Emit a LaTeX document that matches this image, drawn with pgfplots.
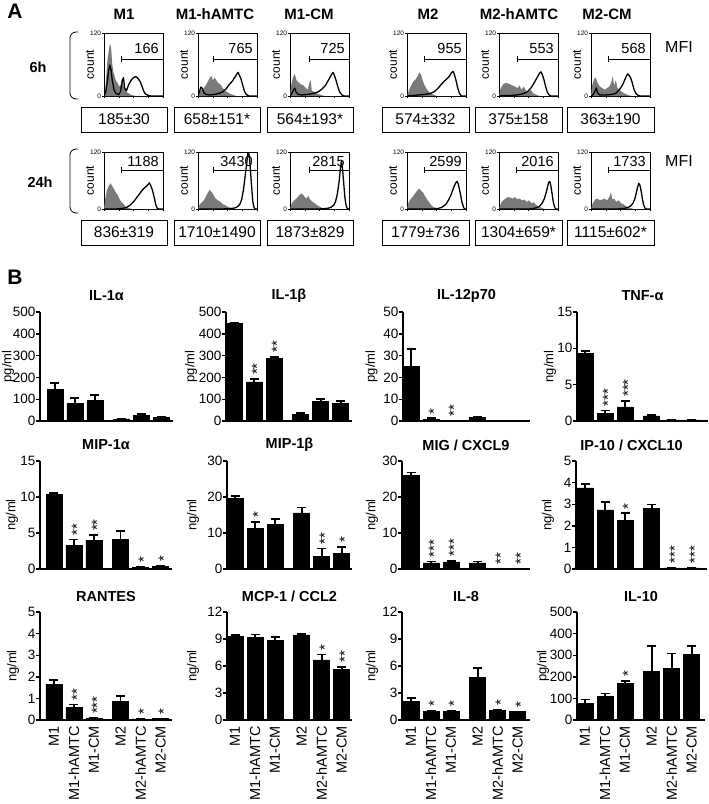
\documentclass[border=0pt]{standalone}
\usepackage{fontspec}
\setmainfont{Liberation Sans}
\usepackage{pgfplots}
\pgfplotsset{compat=1.18}
\newcommand\fs[1]{\fontsize{#1}{#1}\selectfont}
\pgfplotsset{
  /pgf/number format/assume math mode=true,
  hist/.style={scale only axis, width=59pt, xmin=0, xmax=100, ymin=0, ymax=120,
    ytick={0,120}, yticklabel style={font=\fs{6.5}, inner sep=0.8pt},
    xtick={0,25,50,75,100}, xticklabels={}, minor x tick num=4,
    tick pos=left, tick align=outside, major tick length=2pt, minor tick length=1.2pt,
    tick style={line width=0.5pt, black},
    axis line style={line width=0.7pt},
    clip mode=individual,
    anchor=south west},
  gray hist/.style={fill=black!52, draw=none},
  black hist/.style={black, line width=1.3pt, line join=round},
  bchart/.style={scale only axis, anchor=south west,
    axis x line*=bottom, axis y line*=left,
    axis line style={line width=1.6pt},
    xtick=\empty, ymin=0,
    tick align=outside, major tick length=4pt,
    ytick style={line width=1.4pt, black},
    yticklabel style={font=\fs{13.5}, inner sep=0.5pt},
    every axis title/.style={at={(rel axis cs:0.5,1)}, anchor=center, yshift=16pt, font=\bfseries\fs{14.5}},
    ybar, bar width=16pt, clip=false},
  bbar/.style={fill=black, draw=black, line width=0.5pt,
    error bars/.cd, y dir=plus, y explicit,
    error bar style={line width=1.8pt, black},
    error mark options={rotate=90, line width=1.8pt, mark size=4.5pt, black}},
  xcat/.style={xtick={0,1,2,3.33,4.33,5.33}, xticklabels={M1,M1-hAMTC,M1-CM,M2,M2-hAMTC,M2-CM},
    x tick label style={rotate=90, anchor=east, font=\fs{14.5}, inner sep=2pt}, major x tick style={draw=none}},
}
\tikzset{st/.style={rotate=90, anchor=west, font=\fs{15}, inner sep=0pt}}
\newcommand\ylab[2]{\node[rotate=90, font=\fs{13}, inner sep=0pt] at ([xshift=-#1pt]rel axis cs:0,0.5) {#2};}
% #1 left, #2 bottom, #3 height, #4 gate x, #5 gate y, #6 number y, #7 number, #8 gray, #9 black
\newcommand\hist[9]{%
\begin{axis}[hist, at={(#1pt,-#2pt)}, height=#3pt]
\addplot[gray hist] coordinates {#8} \closedcycle;
\addplot[black hist] coordinates {#9};
\draw[line width=0.6pt] (axis cs:#4,#5) -- (axis cs:100,#5);
\draw[line width=0.6pt] ([yshift=-3pt]axis cs:#4,#5) -- ([yshift=3pt]axis cs:#4,#5);
\node[anchor=east, font=\fs{14.5}, inner sep=0pt] at (axis cs:93,#6) {#7};
\node[rotate=90, font=\fs{12}, inner sep=0pt] at ([xshift=-14pt]rel axis cs:0,0.5) {count};
\end{axis}}
\newcommand\mfibox[5]{%
\draw[line width=0.8pt] (#1pt,-#2pt) rectangle (#3pt,-#4pt);
\node[font=\fs{15.5}, inner sep=0pt] at ({(#1+#3)/2*1pt},{-(#2+#4)/2*1pt}) {#5};}
\newcommand\brk[2]{\draw[line width=0.8pt, rounded corners=6pt] (78pt,-#1pt) -- (70pt,-#1pt) -- (70pt,-#2pt) -- (78pt,-#2pt);}
\begin{document}
\begin{tikzpicture}
\path[use as bounding box] (0,0) rectangle (709pt,-804pt);
% ---------------- Panel A ----------------
\node[font=\bfseries\fs{21}] at (15pt,-11pt) {A};
\node[font=\bfseries\fs{21}] at (15pt,-277pt) {B};
\foreach \x/\t in {124/M1,215/M1-hAMTC,309/M1-CM,428/M2,519/M2-hAMTC,607/M2-CM}
  \node[font=\bfseries\fs{15}] at (\x pt,-14pt) {\t};
\node[font=\bfseries\fs{14.5}] at (38pt,-67pt) {6h};
\node[font=\bfseries\fs{14.5}] at (40pt,-182pt) {24h};
\node[font=\fs{16}] at (679pt,-47pt) {MFI};
\node[font=\fs{16}] at (679pt,-161pt) {MFI};
\brk{32}{99}
\brk{149}{213}
% row 1 (6h)
\hist{104}{96}{63}{29}{70}{90}{166}
{(0,0)(2,10)(4,40)(6,70)(8,85)(10,100)(12,92)(14,60)(16,45)(18,38)(20,30)(23,25)(26,18)(29,22)(31,35)(33,20)(36,12)(40,6)(45,3)(50,1)(55,0)(100,0)}
{(0,0)(3,8)(6,30)(8,50)(10,59)(12,50)(14,30)(17,12)(20,5)(25,3)(28,8)(31,30)(33,35)(35,15)(38,10)(42,22)(46,30)(50,35)(54,37)(58,33)(61,28)(64,20)(67,10)(70,4)(75,1)(80,0)(100,0)}
\hist{198}{96}{63}{26}{70}{90}{765}
{(0,0)(3,8)(6,12)(10,15)(14,22)(17,28)(20,35)(23,38)(25,30)(28,35)(31,30)(34,25)(38,22)(42,15)(46,10)(50,7)(55,4)(60,2)(65,0)(100,0)}
{(0,0)(3,10)(5,17)(7,15)(10,6)(14,3)(20,2)(28,3)(36,5)(42,8)(48,14)(53,22)(58,28)(62,35)(66,42)(68,45)(70,40)(73,32)(76,20)(79,8)(82,3)(86,0)(100,0)}
\hist{290}{96}{63}{33}{70}{90}{725}
{(0,0)(2,20)(5,35)(8,42)(11,30)(15,25)(19,22)(23,20)(27,15)(30,12)(33,25)(35,30)(37,10)(41,8)(45,5)(50,3)(55,1)(60,0)(100,0)}
{(0,0)(3,5)(6,12)(8,15)(10,8)(14,3)(20,2)(30,3)(40,5)(48,8)(55,14)(60,20)(64,28)(68,36)(71,42)(73,45)(75,40)(78,30)(81,18)(84,8)(88,2)(92,0)(100,0)}
\hist{407}{96}{63}{29}{70}{90}{955}
{(0,0)(3,10)(7,20)(11,28)(15,32)(18,38)(21,45)(24,40)(27,28)(30,20)(34,12)(38,7)(42,4)(46,2)(50,0)(100,0)}
{(0,0)(10,1)(20,2)(30,3)(40,5)(46,8)(52,14)(58,22)(63,28)(68,33)(72,38)(75,44)(78,47)(80,42)(83,30)(86,15)(89,5)(92,0)(100,0)}
\hist{499}{96}{63}{31}{70}{90}{553}
{(0,0)(3,15)(7,22)(11,25)(15,24)(19,22)(23,20)(27,18)(31,15)(35,20)(38,12)(42,18)(46,10)(50,8)(54,12)(58,5)(62,3)(66,1)(70,0)(100,0)}
{(0,0)(10,1)(20,1)(30,2)(40,4)(48,8)(54,15)(58,22)(62,30)(66,38)(69,44)(71,46)(73,42)(76,32)(79,18)(82,7)(85,2)(88,0)(100,0)}
\hist{591}{96}{63}{30}{70}{90}{568}
{(0,0)(2,20)(5,32)(8,35)(11,25)(15,18)(19,15)(23,12)(27,15)(31,18)(34,25)(37,38)(39,20)(42,30)(45,15)(50,10)(55,6)(60,3)(65,1)(70,0)(100,0)}
{(0,0)(4,3)(7,10)(9,15)(11,6)(15,2)(25,2)(35,3)(42,5)(48,12)(53,20)(57,30)(60,38)(62,42)(64,40)(67,35)(70,25)(73,12)(76,5)(80,1)(84,0)(100,0)}
% row 2 (24h)
\hist{104}{209}{57}{29}{82}{101}{1188}
{(0,0)(2,20)(5,40)(8,48)(11,54)(14,48)(17,42)(20,35)(23,30)(26,22)(29,15)(32,12)(35,8)(38,4)(42,2)(46,0)(100,0)}
{(0,0)(20,0)(30,1)(38,3)(44,8)(50,15)(56,25)(61,33)(65,40)(69,45)(72,48)(75,52)(77,55)(79,50)(82,40)(85,25)(88,8)(90,2)(93,0)(100,0)}
\hist{198}{209}{57}{26}{82}{101}{3430}
{(0,0)(3,10)(7,15)(11,20)(14,28)(17,35)(20,40)(23,36)(26,30)(30,22)(34,18)(38,15)(42,10)(46,8)(50,5)(55,2)(60,0)(100,0)}
{(0,0)(40,0)(55,1)(62,2)(67,5)(71,10)(74,20)(77,40)(80,70)(83,100)(85,125)(87,110)(89,80)(91,45)(93,15)(95,3)(97,0)(100,0)}
\hist{290}{209}{57}{32}{82}{101}{2815}
{(0,0)(3,12)(7,18)(11,22)(15,28)(19,33)(22,30)(25,25)(28,22)(31,28)(34,20)(38,15)(42,12)(46,8)(50,5)(55,2)(60,0)(100,0)}
{(0,0)(50,0)(60,1)(66,2)(70,4)(74,8)(77,15)(80,30)(83,55)(85,80)(87,100)(89,85)(91,55)(93,25)(95,8)(97,1)(99,0)(100,0)}
\hist{407}{209}{57}{30}{82}{101}{2599}
{(0,0)(3,15)(7,22)(11,28)(15,35)(18,40)(21,43)(24,38)(27,35)(30,28)(33,22)(37,15)(41,8)(45,4)(50,2)(55,0)(100,0)}
{(0,0)(45,0)(52,1)(58,3)(62,6)(66,10)(70,18)(74,28)(77,38)(80,48)(83,56)(85,58)(87,52)(90,35)(93,15)(96,3)(98,0)(100,0)}
\hist{499}{209}{57}{30}{82}{101}{2016}
{(0,0)(3,12)(7,18)(11,22)(15,25)(19,24)(23,22)(27,25)(31,20)(35,22)(39,18)(43,20)(47,15)(51,18)(55,12)(59,14)(63,8)(67,6)(71,3)(75,1)(78,0)(100,0)}
{(0,0)(50,0)(58,1)(64,3)(69,6)(73,12)(77,22)(80,35)(82,45)(84,56)(86,58)(88,48)(90,32)(92,15)(94,5)(96,0)(100,0)}
\hist{591}{209}{57}{30}{82}{101}{1733}
{(0,0)(3,12)(7,20)(11,22)(15,18)(19,20)(23,22)(27,18)(31,25)(34,35)(36,20)(39,22)(43,15)(47,18)(51,12)(55,10)(59,6)(63,4)(67,2)(72,0)(100,0)}
{(0,0)(45,0)(55,1)(62,3)(67,6)(71,12)(74,20)(77,35)(79,46)(81,54)(83,50)(85,38)(87,22)(89,10)(91,3)(93,0)(100,0)}
% MFI boxes
\mfibox{81}{107}{167}{132}{185±30}
\mfibox{174}{107}{260}{132}{658±151*}
\mfibox{267}{107}{353}{132}{564±193*}
\mfibox{382}{107}{469}{132}{574±332}
\mfibox{475}{107}{562}{132}{375±158}
\mfibox{567}{107}{654}{132}{363±190}
\mfibox{81}{220}{167}{245}{836±319}
\mfibox{174}{220}{260}{245}{1710±1490}
\mfibox{267}{220}{353}{245}{1873±829}
\mfibox{382}{220}{469}{245}{1779±736}
\mfibox{475}{220}{562}{245}{1304±659*}
\mfibox{567}{220}{654}{245}{1115±602*}
% ---------------- Panel B ----------------
% Row 1
\begin{axis}[bchart, at={(40pt,-421pt)}, width=133pt, height=109pt, xmin=-0.75, xmax=5.9,
  ymax=500, ytick={0,100,...,500}, title={IL-1α}]
\addplot[bbar] coordinates {(0,145) +- (0,30) (1,80) +- (0,26) (2,95) +- (0,23) (3.33,10) +- (0,1) (4.33,26) +- (0,7) (5.33,18) +- (0,2)};
\ylab{32}{pg/ml}
\end{axis}
\begin{axis}[bchart, at={(226pt,-421pt)}, width=126pt, height=109pt, xmin=-0.4, xmax=5.9,
  ymax=500, ytick={0,100,...,500}, title={IL-1β}]
\addplot[bbar] coordinates {(0,447) +- (0,4) (1,180) +- (0,12) (2,287) +- (0,7) (3.33,30) +- (0,6) (4.33,90) +- (0,10) (5.33,80) +- (0,10)};
\ylab{35}{pg/ml}
\node[st] at ([xshift=3pt,yshift=4pt]axis cs:1,192) {**};
\node[st] at ([xshift=3pt,yshift=4pt]axis cs:2,294) {**};
\end{axis}
\begin{axis}[bchart, at={(403pt,-421pt)}, width=127pt, height=109pt, xmin=-0.4, xmax=5.95,
  ymax=50, ytick={0,10,...,50}, title={IL-12p70}]
\addplot[bbar] coordinates {(0,25) +- (0,8) (1,0.8) +- (0,0.4) (2,0.1) +- (0,0.05) (3.33,1.5) +- (0,0.6) (4.33,0.05) +- (0,0) (5.33,0.05) +- (0,0)};
\ylab{31.5}{pg/ml}
\node[st] at ([xshift=3pt,yshift=4pt]axis cs:1,1.2) {*};
\node[st] at ([xshift=3pt,yshift=4pt]axis cs:2,0.15) {**};
\end{axis}
\begin{axis}[bchart, at={(577pt,-421pt)}, width=131pt, height=109pt, xmin=-0.4, xmax=6.15,
  ymax=15, ytick={0,5,10,15}, title={TNF-α}]
\addplot[bbar] coordinates {(0,9.3) +- (0,0.3) (1,1.0) +- (0,0.45) (2,1.95) +- (0,0.8) (3.33,0.7) +- (0,0.15) (4.33,0.15) +- (0,0.03) (5.33,0.15) +- (0,0.03)};
\ylab{27}{ng/ml}
\node[st] at ([xshift=3pt,yshift=4pt]axis cs:1,1.45) {***};
\node[st] at ([xshift=3pt,yshift=4pt]axis cs:2,2.75) {***};
\end{axis}
% Row 2
\begin{axis}[bchart, at={(40pt,-569pt)}, width=132pt, height=108pt, xmin=-0.7, xmax=5.9,
  ymax=15, ytick={0,5,10,15}, title={MIP-1α}]
\addplot[bbar] coordinates {(0,10.4) +- (0,0.2) (1,3.3) +- (0,0.8) (2,4.0) +- (0,0.7) (3.33,4.1) +- (0,1.2) (4.33,0.25) +- (0,0.05) (5.33,0.4) +- (0,0.1)};
\ylab{28}{ng/ml}
\node[st] at ([xshift=3pt,yshift=4pt]axis cs:1,4.1) {**};
\node[st] at ([xshift=3pt,yshift=4pt]axis cs:2,4.7) {**};
\node[st] at ([xshift=3pt,yshift=4pt]axis cs:4.33,0.3) {*};
\node[st] at ([xshift=3pt,yshift=4pt]axis cs:5.33,0.5) {*};
\end{axis}
\begin{axis}[bchart, at={(227pt,-569pt)}, width=125pt, height=108pt, xmin=-0.4, xmax=5.85,
  ymax=30, ytick={0,10,20,30}, title={MIP-1β}]
\addplot[bbar] coordinates {(0,19.6) +- (0,0.6) (1,11.3) +- (0,1.8) (2,12.5) +- (0,1.3) (3.33,15.6) +- (0,1.5) (4.33,3.5) +- (0,2.2) (5.33,4.4) +- (0,1.7)};
\ylab{34}{ng/ml}
\node[st] at ([xshift=3pt,yshift=4pt]axis cs:1,13.1) {*};
\node[st] at ([xshift=3pt,yshift=4pt]axis cs:4.33,5.7) {**};
\node[st] at ([xshift=3pt,yshift=4pt]axis cs:5.33,6.1) {*};
\end{axis}
\begin{axis}[bchart, at={(402pt,-569pt)}, width=128pt, height=108pt, xmin=-0.45, xmax=5.95,
  ymax=30, ytick={0,10,20,30}, title={MIG / CXCL9}]
\addplot[bbar] coordinates {(0,26.1) +- (0,0.7) (1,1.7) +- (0,0.4) (2,2.0) +- (0,0.3) (3.33,1.7) +- (0,0.4) (4.33,0.02) +- (0,0) (5.33,0.02) +- (0,0)};
\ylab{30}{ng/ml}
\node[st] at ([xshift=3pt,yshift=4pt]axis cs:1,2.1) {***};
\node[st] at ([xshift=3pt,yshift=4pt]axis cs:2,2.3) {***};
\node[st] at ([xshift=3pt,yshift=4pt]axis cs:4.33,0.1) {**};
\node[st] at ([xshift=3pt,yshift=4pt]axis cs:5.33,0.1) {**};
\end{axis}
\begin{axis}[bchart, at={(576pt,-569pt)}, width=131pt, height=108pt, xmin=-0.45, xmax=6.1,
  ymax=5, ytick={0,1,...,5}, title={IP-10 / CXCL10}, title style={xshift=-10pt}]
\addplot[bbar] coordinates {(0,3.76) +- (0,0.16) (1,2.74) +- (0,0.36) (2,2.24) +- (0,0.34) (3.33,2.82) +- (0,0.17) (4.33,0.05) +- (0,0.01) (5.33,0.05) +- (0,0.01)};
\ylab{28}{ng/ml}
\node[st] at ([xshift=3pt,yshift=4pt]axis cs:2,2.58) {*};
\node[st] at ([xshift=3pt,yshift=4pt]axis cs:4.33,0.06) {***};
\node[st] at ([xshift=3pt,yshift=4pt]axis cs:5.33,0.06) {***};
\end{axis}
% Row 3
\begin{axis}[bchart, xcat, at={(40pt,-720pt)}, width=132pt, height=108pt, xmin=-0.7, xmax=5.9,
  ymax=5, ytick={0,1,...,5}, title={RANTES}]
\addplot[bbar] coordinates {(0,1.66) +- (0,0.19) (1,0.58) +- (0,0.14) (2,0.08) +- (0,0.01) (3.33,0.85) +- (0,0.25) (4.33,0.05) +- (0,0.01) (5.33,0.06) +- (0,0.01)};
\ylab{27}{ng/ml}
\node[st] at ([xshift=3pt,yshift=4pt]axis cs:1,0.72) {**};
\node[st] at ([xshift=3pt,yshift=4pt]axis cs:2,0.09) {***};
\node[st] at ([xshift=3pt,yshift=4pt]axis cs:4.33,0.06) {*};
\node[st] at ([xshift=3pt,yshift=4pt]axis cs:5.33,0.07) {*};
\end{axis}
\begin{axis}[bchart, xcat, at={(227pt,-720pt)}, width=125pt, height=108pt, xmin=-0.4, xmax=5.85,
  ymax=12, ytick={0,3,...,12}, title={MCP-1 / CCL2}]
\addplot[bbar] coordinates {(0,9.3) +- (0,0.15) (1,9.2) +- (0,0.3) (2,8.86) +- (0,0.4) (3.33,9.45) +- (0,0.1) (4.33,6.68) +- (0,0.6) (5.33,5.65) +- (0,0.25)};
\ylab{34}{ng/ml}
\node[st] at ([xshift=3pt,yshift=4pt]axis cs:4.33,7.3) {*};
\node[st] at ([xshift=3pt,yshift=4pt]axis cs:5.33,5.9) {**};
\end{axis}
\begin{axis}[bchart, xcat, at={(402pt,-720pt)}, width=128pt, height=108pt, xmin=-0.45, xmax=5.95,
  ymax=12, ytick={0,3,...,12}, title={IL-8}]
\addplot[bbar] coordinates {(0,2.1) +- (0,0.37) (1,0.95) +- (0,0.05) (2,0.97) +- (0,0.05) (3.33,4.72) +- (0,1.08) (4.33,1.05) +- (0,0.07) (5.33,0.92) +- (0,0.03)};
\ylab{30}{ng/ml}
\node[st] at ([xshift=3pt,yshift=4pt]axis cs:1,1.0) {*};
\node[st] at ([xshift=3pt,yshift=4pt]axis cs:2,1.02) {*};
\node[st] at ([xshift=3pt,yshift=4pt]axis cs:4.33,1.12) {*};
\node[st] at ([xshift=3pt,yshift=4pt]axis cs:5.33,0.95) {*};
\end{axis}
\begin{axis}[bchart, xcat, at={(577pt,-720pt)}, width=128pt, height=108pt, xmin=-0.4, xmax=6.0,
  ymax=500, ytick={0,100,...,500}, title={IL-10}]
\addplot[bbar] coordinates {(0,77) +- (0,18) (1,108) +- (0,15) (2,169) +- (0,12) (3.33,226) +- (0,116) (4.33,238) +- (0,70) (5.33,305) +- (0,37)};
\ylab{34}{pg/ml}
\node[st] at ([xshift=3pt,yshift=4pt]axis cs:2,181) {*};
\end{axis}
\end{tikzpicture}
\end{document}
